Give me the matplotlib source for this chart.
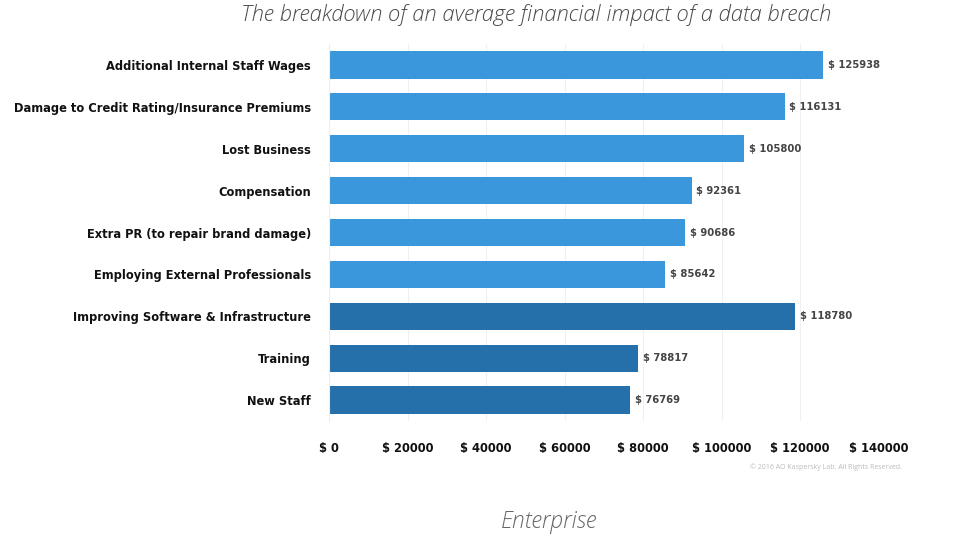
import numpy as np
import matplotlib
matplotlib.use("Agg")
import matplotlib.pyplot as plt

categories = ["Additional Internal Staff Wages",
              "Damage to Credit Rating/Insurance Premiums",
              "Lost Business",
              "Compensation",
              "Extra PR (to repair brand damage)",
              "Employing External Professionals",
              "Improving Software & Infrastructure",
              "Training",
              "New Staff"]
values = [125938, 116131, 105800, 92361, 90686, 85642, 118780, 78817, 76769]
is_dark = [False, False, False, False, False, False, True, True, True]
xticks = [0, 20000, 40000, 60000, 80000, 100000, 120000, 140000]

light = "#3a97dc"
dark = "#2570aa"
cond = dict(family="DejaVu Sans", fontstretch="condensed", fontweight="bold")

fig = plt.figure(figsize=(9.6, 5.4), dpi=100)
ax = fig.add_axes([0.343, 0.2204, 0.572, 0.698])

y = np.arange(len(categories))
colors = [dark if d else light for d in is_dark]
ax.barh(y, values, height=0.65, color=colors, zorder=2)

for yi, v in zip(y, values):
    ax.text(v + 1200, yi, "$ %d" % v, va="center", ha="left",
            fontsize=8, color="#444444", **cond)

ax.set_ylim(len(categories) - 0.5, -0.5)
ax.set_xlim(0, 140000)
ax.set_yticks(y)
ax.set_yticklabels(categories, fontsize=9.2, color="#111111", **cond)
ax.set_xticks(xticks)
ax.set_xticklabels(["$ %d" % t for t in xticks], fontsize=9.3, color="#111111", **cond)
ax.tick_params(axis="y", length=0, pad=13)
ax.tick_params(axis="x", length=0, pad=15)
ax.grid(axis="x", color="#f0f0f0", linewidth=0.8, zorder=0)
for s in ["top", "right", "bottom"]:
    ax.spines[s].set_visible(False)
ax.spines["left"].set_color("#eeeeee")

fig.text(0.558, 0.972, "The breakdown of an average financial impact of a data breach",
         ha="center", va="center", fontsize=15.8, style="italic", color="#4a4a4a",
         family=["Open Sans", "DejaVu Sans"], fontweight="light")
fig.text(0.572, 0.033, "Enterprise", ha="center", va="center", fontsize=16.5,
         style="italic", color="#666666", family=["Open Sans", "DejaVu Sans"], fontweight="light")
fig.text(0.94, 0.135, "\u00a9 2016 AO Kaspersky Lab. All Rights Reserved.", ha="right",
         va="center", fontsize=5, color="#bbbbbb", family=["Open Sans", "DejaVu Sans"])

fig.savefig("out.png", dpi=100, facecolor="white")
